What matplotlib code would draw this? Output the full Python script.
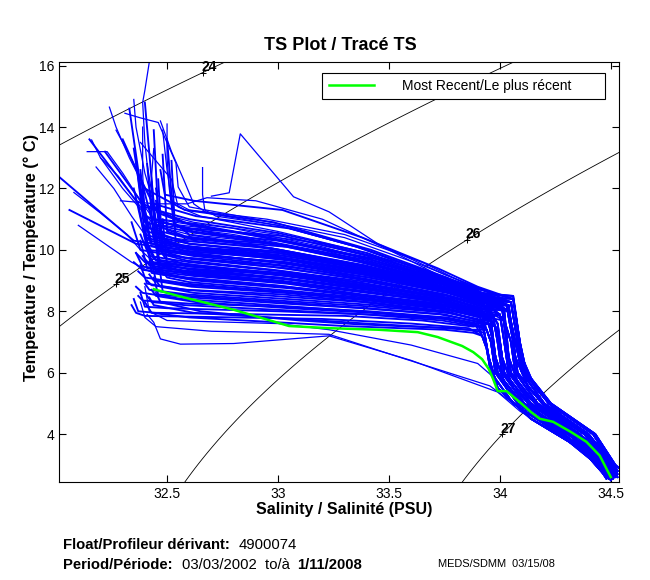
import matplotlib
matplotlib.use('Agg')
import matplotlib.pyplot as plt
import numpy as np

plt.rcParams['font.family'] = ['Liberation Sans', 'DejaVu Sans']

# density (sigma-t) levels drawn as background and where their labels sit
levels = [24, 25, 26, 27]
label_s = [32.66, 32.27, 33.85, 34.01]

# deep parts of the profiles (from the step near S=34 down to the bottom)
tails = [
    ([33.92, 33.94, 33.96, 34.06, 34.27, 34.44, 34.48], [7.2, 6.8, 6.0, 5.0, 4.0, 3.0, 2.55]),
    ([33.94, 33.96, 33.98, 34.08, 34.29, 34.45, 34.49], [7.4, 7.0, 6.0, 5.0, 4.0, 3.0, 2.6]),
    ([33.95, 33.97, 33.99, 34.10, 34.31, 34.46, 34.50], [7.6, 7.0, 6.0, 5.0, 4.0, 3.0, 2.5]),
    ([33.97, 33.99, 34.01, 34.11, 34.32, 34.47, 34.50], [7.8, 7.0, 6.0, 5.0, 4.0, 3.0, 2.65]),
    ([33.98, 34.00, 34.02, 34.13, 34.34, 34.47, 34.51], [7.5, 7.0, 6.0, 5.0, 4.0, 3.0, 2.55]),
    ([34.00, 34.02, 34.04, 34.14, 34.35, 34.48, 34.51], [7.9, 7.0, 6.0, 5.0, 4.0, 3.0, 2.7]),
    ([34.01, 34.03, 34.05, 34.16, 34.36, 34.49, 34.52], [8.1, 7.0, 6.0, 5.0, 4.0, 3.0, 2.6]),
    ([34.02, 34.05, 34.07, 34.17, 34.38, 34.49, 34.52], [7.7, 7.0, 6.0, 5.0, 4.0, 3.0, 2.75]),
    ([34.03, 34.06, 34.08, 34.19, 34.39, 34.50, 34.53], [8.2, 7.0, 6.0, 5.0, 4.0, 3.0, 2.6]),
    ([34.04, 34.07, 34.10, 34.20, 34.40, 34.51, 34.53], [8.0, 7.0, 6.0, 5.0, 4.0, 3.0, 2.7]),
    ([34.05, 34.08, 34.11, 34.22, 34.42, 34.51, 34.53], [8.3, 7.0, 6.0, 5.0, 4.0, 3.0, 2.8]),
    ([34.06, 34.09, 34.12, 34.23, 34.43, 34.52, 34.535], [8.4, 7.0, 6.0, 5.0, 4.0, 3.0, 2.9]),
    ([33.93, 33.95, 33.99, 34.14, 34.37, 34.48], [7.3, 6.5, 5.5, 4.5, 3.5, 2.6]),
    ([33.96, 33.98, 34.03, 34.17, 34.39, 34.49], [7.7, 6.5, 5.5, 4.5, 3.5, 2.55]),
    ([33.99, 34.01, 34.06, 34.20, 34.41, 34.50], [7.6, 6.5, 5.5, 4.5, 3.5, 2.65]),
    ([34.02, 34.04, 34.09, 34.23, 34.43, 34.51], [8.0, 6.5, 5.5, 4.5, 3.5, 2.6]),
    ([34.04, 34.07, 34.13, 34.26, 34.45, 34.52], [8.2, 6.5, 5.5, 4.5, 3.5, 2.7]),
    ([34.06, 34.10, 34.16, 34.29, 34.47, 34.53], [8.5, 6.5, 5.5, 4.5, 3.5, 2.8]),
]

# upper parts of the profiles in the main band: (salinity, temperature, index of deep part)
band_profiles = [
    ([32.47, 32.49, 32.62, 33.02, 33.38, 33.72, 33.90], [12.6, 11.8, 11.6, 11.3, 10.4, 9.4, 8.8], 11),
    ([32.30, 32.40, 32.58, 32.98, 33.42, 33.76, 33.92], [13.6, 12.0, 11.3, 10.9, 10.0, 9.1, 8.6], 10),
    ([32.40, 32.44, 32.63, 33.05, 33.36, 33.70, 33.91], [14.8, 11.5, 11.1, 10.7, 10.1, 9.2, 8.7], 11),
    ([32.22, 32.40, 32.60, 33.00, 33.40, 33.74, 33.93], [13.2, 11.4, 11.0, 10.55, 9.9, 9.05, 8.5], 9),
    ([32.44, 32.46, 32.57, 32.96, 33.44, 33.78, 33.92], [13.9, 11.2, 10.9, 10.4, 9.7, 8.95, 8.5], 11),
    ([32.15, 32.36, 32.61, 33.03, 33.39, 33.73, 33.91], [13.6, 11.6, 10.8, 10.3, 9.75, 9.0, 8.55], 7),
    ([32.38, 32.43, 32.59, 32.99, 33.41, 33.77, 33.92], [12.4, 11.0, 10.7, 10.2, 9.55, 8.9, 8.45], 10),
    ([32.33, 32.40, 32.62, 33.04, 33.37, 33.71, 33.93], [14.6, 11.1, 10.6, 10.1, 9.6, 8.95, 8.4], 8),
    ([32.50, 32.53, 32.60, 33.01, 33.43, 33.76, 33.92], [13.6, 10.9, 10.5, 10.0, 9.4, 8.85, 8.45], 11),
    ([32.42, 32.45, 32.58, 32.97, 33.38, 33.74, 33.93], [11.9, 10.8, 10.45, 10.05, 9.5, 8.8, 8.4], 6),
    ([32.06, 32.36, 32.61, 33.02, 33.40, 33.75, 33.92], [11.3, 10.2, 9.95, 9.7, 9.3, 8.75, 8.35], 9),
    ([32.42, 32.44, 32.60, 33.00, 33.42, 33.77, 33.93], [11.4, 10.6, 10.2, 9.9, 9.35, 8.7, 8.3], 5),
    ([32.36, 32.40, 32.57, 32.98, 33.37, 33.73, 33.91], [12.9, 10.5, 10.15, 9.8, 9.3, 8.75, 8.35], 10),
    ([32.01, 32.35, 32.63, 33.05, 33.44, 33.78, 33.93], [12.4, 10.3, 10.0, 9.65, 9.15, 8.6, 8.2], 3),
    ([32.45, 32.47, 32.59, 33.01, 33.39, 33.74, 33.92], [11.6, 10.4, 10.05, 9.75, 9.25, 8.7, 8.3], 8),
    ([32.40, 32.43, 32.62, 33.03, 33.41, 33.76, 33.92], [11.2, 10.2, 9.9, 9.55, 9.1, 8.6, 8.25], 4),
    ([32.52, 32.54, 32.60, 32.99, 33.38, 33.72, 33.91], [12.9, 10.1, 9.85, 9.6, 9.2, 8.7, 8.35], 10),
    ([32.34, 32.38, 32.58, 32.97, 33.43, 33.77, 33.92], [10.9, 10.0, 9.75, 9.45, 9.0, 8.5, 8.15], 6),
    ([32.44, 32.46, 32.61, 33.04, 33.40, 33.75, 33.93], [10.7, 9.9, 9.7, 9.4, 9.0, 8.55, 8.2], 2),
    ([32.38, 32.42, 32.60, 33.02, 33.36, 33.73, 33.92], [10.5, 9.8, 9.6, 9.3, 8.95, 8.5, 8.1], 7),
    ([32.47, 32.49, 32.57, 32.96, 33.42, 33.78, 33.93], [10.0, 9.75, 9.55, 9.25, 8.8, 8.4, 8.05], 5),
    ([32.41, 32.44, 32.63, 33.05, 33.39, 33.74, 33.92], [10.2, 9.7, 9.5, 9.2, 8.85, 8.45, 8.1], 9),
    ([32.36, 32.40, 32.59, 33.00, 33.41, 33.76, 33.91], [9.9, 9.6, 9.4, 9.1, 8.75, 8.35, 8.0], 3),
    ([32.44, 32.47, 32.61, 33.03, 33.37, 33.72, 33.90], [10.4, 9.55, 9.35, 9.05, 8.75, 8.4, 8.05], 8),
    ([32.39, 32.42, 32.58, 32.98, 33.44, 33.77, 33.92], [9.8, 9.5, 9.3, 9.0, 8.6, 8.25, 7.95], 1),
    ([32.48, 32.50, 32.60, 33.01, 33.40, 33.75, 33.91], [11.0, 9.45, 9.2, 8.95, 8.6, 8.3, 8.0], 4),
    ([32.35, 32.39, 32.62, 33.04, 33.38, 33.73, 33.90], [9.6, 9.35, 9.15, 8.9, 8.55, 8.25, 7.95], 6),
    ([32.43, 32.45, 32.57, 32.97, 33.42, 33.78, 33.92], [9.7, 9.3, 9.1, 8.85, 8.5, 8.2, 7.9], 2),
    ([32.40, 32.43, 32.60, 33.02, 33.39, 33.74, 33.91], [10.8, 9.25, 9.05, 8.8, 8.5, 8.2, 7.9], 5),
    ([32.46, 32.48, 32.63, 33.05, 33.43, 33.77, 33.92], [9.4, 9.2, 9.0, 8.75, 8.45, 8.15, 7.85], 3),
    ([32.37, 32.40, 32.59, 32.99, 33.36, 33.72, 33.90], [9.3, 9.1, 8.9, 8.65, 8.4, 8.1, 7.85], 7),
    ([32.42, 32.44, 32.61, 33.03, 33.41, 33.76, 33.91], [9.2, 9.0, 8.8, 8.6, 8.35, 8.05, 7.8], 1),
    ([32.38, 32.41, 32.58, 32.98, 33.38, 33.73, 33.90], [9.5, 8.9, 8.7, 8.5, 8.3, 8.0, 7.75], 4),
    ([32.45, 32.47, 32.62, 33.04, 33.44, 33.78, 33.91], [9.0, 8.8, 8.6, 8.4, 8.2, 7.95, 7.7], 2),
    ([32.40, 32.42, 32.60, 33.01, 33.40, 33.75, 33.90], [8.9, 8.7, 8.5, 8.3, 8.1, 7.9, 7.65], 0),
    ([32.36, 32.39, 32.57, 32.97, 33.37, 33.72, 33.89], [8.8, 8.6, 8.4, 8.2, 8.0, 7.8, 7.6], 3),
    ([32.43, 32.45, 32.63, 33.05, 33.42, 33.77, 33.90], [8.7, 8.5, 8.3, 8.1, 7.95, 7.75, 7.55], 1),
    ([32.34, 32.36, 32.40, 32.80, 33.20, 33.60, 33.86], [8.2, 7.95, 7.85, 7.8, 7.75, 7.6, 7.45], 0),
    ([32.35, 32.37, 32.45, 32.90, 33.30, 33.65, 33.88], [8.4, 8.0, 7.95, 7.9, 7.85, 7.7, 7.5], 2),
    ([32.38, 32.40, 32.50, 33.00, 33.40, 33.75, 33.89], [8.6, 8.15, 8.1, 8.0, 7.9, 7.75, 7.55], 0),
    ([32.41, 32.43, 32.58, 32.99, 33.39, 33.74, 33.90], [8.5, 8.3, 8.2, 8.05, 7.9, 7.7, 7.5], 1),
    ([32.37, 32.39, 32.60, 33.02, 33.41, 33.76, 33.90], [8.5, 8.35, 8.25, 8.15, 8.0, 7.8, 7.6], 2),
    ([32.44, 32.46, 32.61, 33.03, 33.38, 33.73, 33.91], [9.1, 8.55, 8.45, 8.25, 8.1, 7.9, 7.65], 4),
    ([32.46, 32.48, 32.59, 33.00, 33.43, 33.77, 33.91], [9.8, 8.65, 8.55, 8.35, 8.15, 7.95, 7.7], 5),
    ([32.43, 32.46, 32.62, 33.02, 33.40, 33.75, 33.92], [12.2, 10.0, 9.8, 9.5, 9.05, 8.55, 8.2], 6),
    ([32.39, 32.42, 32.58, 32.99, 33.37, 33.72, 33.91], [11.8, 10.3, 10.1, 9.85, 9.4, 8.85, 8.45], 9),
    ([32.48, 32.50, 32.61, 33.04, 33.42, 33.77, 33.93], [13.1, 10.6, 10.35, 10.1, 9.55, 8.9, 8.5], 10),
    ([32.35, 32.40, 32.60, 33.00, 33.39, 33.74, 33.92], [12.0, 10.4, 10.1, 9.9, 9.45, 8.8, 8.4], 7),
    ([32.45, 32.48, 32.59, 32.98, 33.41, 33.76, 33.92], [10.9, 9.85, 9.65, 9.35, 8.95, 8.5, 8.15], 8),
    ([32.42, 32.45, 32.62, 33.03, 33.38, 33.73, 33.91], [10.1, 9.65, 9.45, 9.15, 8.8, 8.4, 8.05], 4),
    ([32.41, 32.44, 32.60, 33.00, 33.40, 33.75, 33.92], [12.8, 10.45, 10.2, 9.95, 9.45, 8.85, 8.45], 16),
    ([32.37, 32.41, 32.62, 33.02, 33.38, 33.74, 33.93], [11.5, 10.0, 9.85, 9.6, 9.2, 8.7, 8.3], 15),
    ([32.46, 32.48, 32.58, 32.99, 33.41, 33.77, 33.92], [12.3, 9.95, 9.75, 9.5, 9.1, 8.6, 8.25], 14),
    ([32.40, 32.43, 32.61, 33.03, 33.39, 33.73, 33.91], [10.6, 9.6, 9.45, 9.25, 8.9, 8.45, 8.1], 13),
    ([32.44, 32.46, 32.59, 33.00, 33.42, 33.76, 33.92], [11.1, 9.5, 9.3, 9.1, 8.7, 8.3, 8.0], 12),
    ([32.38, 32.41, 32.60, 33.01, 33.40, 33.74, 33.91], [10.3, 9.4, 9.25, 9.0, 8.65, 8.3, 7.95], 13),
    ([32.43, 32.45, 32.62, 33.04, 33.43, 33.78, 33.92], [9.5, 9.35, 9.2, 8.95, 8.6, 8.25, 7.9], 12),
    ([32.47, 32.49, 32.57, 32.97, 33.37, 33.72, 33.90], [10.6, 10.3, 10.1, 9.8, 9.35, 8.8, 8.4], 16),
    ([32.35, 32.40, 32.59, 33.00, 33.41, 33.76, 33.92], [13.3, 10.9, 10.6, 10.3, 9.7, 9.0, 8.55], 17),
    ([32.45, 32.47, 32.61, 33.02, 33.39, 33.74, 33.92], [12.0, 10.9, 10.7, 10.45, 9.85, 9.1, 8.6], 17),
    ([32.39, 32.42, 32.58, 32.98, 33.38, 33.73, 33.91], [11.6, 10.7, 10.4, 10.2, 9.7, 9.0, 8.55], 15),
    ([32.42, 32.45, 32.60, 33.01, 33.42, 33.77, 33.93], [10.9, 10.15, 9.95, 9.75, 9.3, 8.7, 8.35], 14),
    ([32.36, 32.39, 32.62, 33.03, 33.40, 33.75, 33.92], [9.9, 9.45, 9.3, 9.05, 8.7, 8.35, 8.0], 12),
    ([32.48, 32.50, 32.60, 33.00, 33.38, 33.73, 33.91], [9.3, 9.1, 8.95, 8.7, 8.45, 8.15, 7.85], 13),
    ([32.41, 32.43, 32.59, 33.02, 33.41, 33.76, 33.91], [9.0, 8.85, 8.7, 8.55, 8.3, 8.0, 7.7], 12),
    ([32.44, 32.46, 32.61, 33.04, 33.44, 33.78, 33.92], [10.5, 10.05, 9.85, 9.6, 9.15, 8.65, 8.3], 15),
    ([32.38, 32.41, 32.57, 32.97, 33.39, 33.74, 33.92], [12.6, 10.6, 10.3, 10.05, 9.5, 8.9, 8.5], 16),
    ([32.46, 32.48, 32.62, 33.03, 33.37, 33.72, 33.91], [11.3, 10.25, 10.05, 9.8, 9.4, 8.8, 8.4], 14),
    ([32.40, 32.42, 32.58, 32.99, 33.43, 33.77, 33.92], [9.7, 9.55, 9.4, 9.2, 8.8, 8.4, 8.05], 13),
    ([32.43, 32.45, 32.60, 33.01, 33.40, 33.75, 33.91], [9.6, 9.0, 8.85, 8.65, 8.4, 8.1, 7.8], 12),
    ([32.40, 32.43, 32.60, 33.05, 33.30, 33.55, 33.75, 33.88], [8.3, 7.95, 7.8, 7.62, 7.52, 7.45, 7.4, 7.3], 0),
    ([32.45, 32.47, 32.65, 33.10, 33.35, 33.60, 33.80, 33.90], [8.6, 8.3, 8.0, 7.7, 7.58, 7.5, 7.45, 7.35], 12),
    ([32.42, 32.44, 32.62, 33.08, 33.40, 33.65, 33.85], [8.45, 8.2, 7.95, 7.75, 7.6, 7.5, 7.4], 1),
]

# warm surface spikes and odd shapes in the upper left
odd_profiles = [
    ([32.42, 32.40, 32.39, 32.40, 32.41, 32.45, 32.80, 33.20, 33.60, 33.88],
     [16.12, 15.2, 14.8, 13.5, 12.8, 11.0, 10.6, 10.2, 9.5, 8.8], 11),
    ([32.24, 32.27, 32.33, 32.40, 32.47, 32.80, 33.20, 33.60, 33.90],
     [14.65, 14.0, 13.0, 12.0, 11.0, 10.7, 10.1, 9.3, 8.6], 10),
    ([32.35, 32.36, 32.40, 32.44, 32.48, 32.80, 33.20, 33.60, 33.90],
     [14.9, 14.0, 12.5, 11.5, 10.8, 10.5, 9.95, 9.3, 8.65], 9),
    ([32.31, 32.38, 32.46, 32.54, 32.55, 32.60, 32.90, 33.30, 33.65, 33.92],
     [14.45, 14.3, 14.15, 12.83, 12.05, 11.4, 11.0, 10.4, 9.5, 8.7], 11),
    ([32.66, 32.66, 32.67, 32.72, 33.00, 33.35, 33.70, 33.92],
     [12.68, 11.8, 11.3, 11.1, 10.8, 10.1, 9.2, 8.7], 10),
    ([32.14, 32.23, 32.30, 32.38, 32.45, 32.80, 33.20, 33.60, 33.90],
     [13.2, 13.2, 12.5, 11.6, 10.9, 10.6, 10.0, 9.2, 8.6], 8),
    ([32.16, 32.20, 32.30, 32.42, 32.50, 32.90, 33.30, 33.70, 33.93],
     [13.58, 13.0, 12.0, 11.0, 10.4, 10.1, 9.6, 8.9, 8.45], 7),
    ([32.08, 32.20, 32.32, 32.38, 32.44, 32.85, 33.30, 33.70, 33.93],
     [11.87, 11.2, 10.5, 10.0, 9.6, 9.3, 8.95, 8.55, 8.2], 5),
    ([32.29, 32.45, 32.59, 32.68, 32.90, 33.20, 33.50, 33.80, 33.95],
     [11.6, 11.5, 11.5, 11.7, 11.6, 11.0, 10.0, 8.9, 8.5], 9),
    ([32.48, 32.50, 32.52, 32.60, 32.95, 33.30, 33.65, 33.90],
     [13.9, 12.6, 11.6, 11.3, 11.0, 10.5, 9.6, 8.7], 6),
    ([32.70, 32.78, 32.83, 33.07, 33.23, 33.45, 33.75, 33.93],
     [11.75, 11.86, 13.78, 11.73, 11.24, 10.2, 9.2, 8.7], 10),
    ([32.20, 32.28, 32.36, 32.44, 32.60, 33.00, 33.40, 33.75, 33.92],
     [13.0, 12.4, 11.6, 10.8, 10.5, 10.2, 9.6, 8.9, 8.5], 16),
    ([32.27, 32.33, 32.39, 32.46, 32.62, 33.00, 33.40, 33.75, 33.92],
     [13.9, 13.1, 12.2, 11.2, 10.9, 10.5, 9.8, 9.0, 8.55], 17),
    ([32.18, 32.26, 32.34, 32.42, 32.60, 33.00, 33.40, 33.75, 33.92],
     [12.7, 12.0, 11.1, 10.3, 10.0, 9.75, 9.3, 8.7, 8.3], 14),
    ([32.39, 32.39, 32.40, 32.43, 32.60, 33.00, 33.40, 33.75, 33.92],
     [14.0, 12.5, 11.0, 10.1, 9.9, 9.6, 9.2, 8.65, 8.3], 15),
    ([32.50, 32.50, 32.51, 32.53, 32.62, 33.00, 33.40, 33.75, 33.92],
     [14.1, 13.0, 12.0, 10.8, 10.55, 10.2, 9.6, 8.95, 8.5], 16),
    ([32.44, 32.43, 32.44, 32.46, 32.60, 33.00, 33.40, 33.75, 33.92],
     [13.3, 12.4, 11.3, 10.4, 10.2, 9.9, 9.4, 8.8, 8.4], 13),
    ([32.10, 32.22, 32.34, 32.42, 32.60, 33.00, 33.40, 33.75, 33.91],
     [10.8, 10.2, 9.6, 9.3, 9.1, 8.85, 8.5, 8.15, 7.9], 12),
    ([32.47, 32.52, 32.58, 32.62, 32.68, 33.00, 33.40, 33.75, 33.92],
     [14.2, 13.2, 12.2, 11.5, 11.2, 10.8, 10.0, 9.1, 8.6], 17),
    ([32.38, 32.45, 32.52, 32.55, 32.65, 33.00, 33.40, 33.75, 33.92],
     [13.5, 12.9, 12.3, 11.4, 11.1, 10.6, 9.9, 9.05, 8.55], 16),
]

# complete profiles that leave the band below the most recent one
low_profiles = [
    ([32.41, 32.44, 32.47, 32.56, 32.80, 33.23, 33.60, 33.99, 34.09, 34.19, 34.30, 34.40, 34.47],
     [7.9, 7.64, 7.1, 6.93, 6.95, 7.2, 6.4, 5.37, 4.75, 4.3, 3.9, 3.3, 2.7]),
    ([32.38, 32.40, 32.45, 32.70, 33.00, 33.23, 33.55, 33.955, 34.06, 34.16, 34.27, 34.38, 34.46],
     [8.3, 7.8, 7.5, 7.35, 7.3, 7.25, 6.5, 5.57, 5.0, 4.5, 4.1, 3.5, 2.8]),
    ([32.40, 32.42, 32.50, 33.00, 33.23, 33.60, 33.90, 33.98, 34.05, 34.14, 34.24, 34.34, 34.43, 34.49],
     [8.8, 8.0, 7.7, 7.6, 7.4, 6.9, 6.3, 5.8, 5.1, 4.6, 4.25, 3.9, 3.3, 2.7]),
]

# most recent profile
recent_s = [32.44, 32.55, 32.80, 33.05, 33.23, 33.45, 33.63, 33.72, 33.83, 33.88, 33.92,
            33.95, 33.97, 33.99, 34.03, 34.09, 34.14, 34.18, 34.24, 34.32, 34.39, 34.45, 34.50]
recent_t = [8.72, 8.5, 8.05, 7.52, 7.45, 7.40, 7.32, 7.16, 6.87, 6.67, 6.44,
            6.12, 5.79, 5.40, 5.40, 5.04, 4.72, 4.50, 4.40, 4.07, 3.75, 3.30, 2.6]


def sigma_t(s, t):
    # UNESCO 1983 equation of state at the surface
    rho_w = (999.842594 + 6.793952e-2 * t - 9.095290e-3 * t**2 + 1.001685e-4 * t**3
             - 1.120083e-6 * t**4 + 6.536332e-9 * t**5)
    a = 8.24493e-1 - 4.0899e-3 * t + 7.6438e-5 * t**2 - 8.2467e-7 * t**3 + 5.3875e-9 * t**4
    b = -5.72466e-3 + 1.0227e-4 * t - 1.6546e-6 * t**2
    c = 4.8314e-4
    return rho_w + a * s + b * s**1.5 + c * s**2 - 1000.0


def t_on_level(s, level):
    lo, hi = -1.0, 30.0
    for _ in range(60):
        mid = 0.5 * (lo + hi)
        if sigma_t(s, mid) > level:
            lo = mid
        else:
            hi = mid
    return 0.5 * (lo + hi)


fig = plt.figure(figsize=(6.5, 5.8), dpi=100)
ax = fig.add_axes([0.0908, 0.169, 0.8615, 0.7241])

sg, tg = np.meshgrid(np.linspace(31.9, 34.7, 300), np.linspace(2.0, 17.0, 300))
ax.contour(sg, tg, sigma_t(sg, tg), levels=levels, colors='k', linewidths=0.6, zorder=1)
for lev, s in zip(levels, label_s):
    t = t_on_level(s, lev)
    ax.plot(s, t, '+', color='k', ms=5, mew=0.7, zorder=1)
    ax.annotate(str(lev), (s, t), xytext=(-1, -1), textcoords='offset points',
                fontsize=10, fontweight='bold', ha='left', va='bottom', zorder=1)

blue = '#0000ff'
for s_up, t_up, k in band_profiles:
    s_dn, t_dn = tails[k]
    ax.plot(s_up + s_dn, t_up + t_dn, color=blue, lw=1.35, zorder=2)
for s_up, t_up, k in odd_profiles:
    s_dn, t_dn = tails[k]
    ax.plot(s_up + s_dn, t_up + t_dn, color=blue, lw=0.9, zorder=2)
for s_all, t_all in low_profiles:
    ax.plot(s_all, t_all, color=blue, lw=0.9, zorder=2)

ax.plot(recent_s, recent_t, color='#00ff00', lw=1.8, zorder=3,
        label='Most Recent/Le plus récent       ')

ax.set_xlim(32.013, 34.537)
ax.set_ylim(2.44, 16.12)
ax.set_xticks([32.5, 33, 33.5, 34, 34.5])
ax.set_xticklabels(['32.5', '33', '33.5', '34', '34.5'])
ax.set_yticks([4, 6, 8, 10, 12, 14, 16])
ax.tick_params(direction='in', top=True, right=True, length=5, labelsize=10, width=0.8)
for sp in ax.spines.values():
    sp.set_linewidth(0.8)

leg = ax.legend(loc='upper right', bbox_to_anchor=(0.975, 0.974), fontsize=10,
                handlelength=3.3, handletextpad=2.0, borderpad=0.45, borderaxespad=0,
                fancybox=False, framealpha=1, edgecolor='k')
leg.get_frame().set_linewidth(0.8)

fig.text(0.523, 0.922, 'TS Plot / Tracé TS', ha='center', va='center',
         fontsize=13, fontweight='bold')
fig.text(0.529, 0.122, 'Salinity / Salinité (PSU)', ha='center', va='center',
         fontsize=11.5, fontweight='bold')
fig.text(0.048, 0.557, 'Temperature / Température (° C)', ha='center', va='center',
         rotation=90, fontsize=11.8, fontweight='bold')

fig.text(0.097, 0.060, 'Float/Profileur dérivant:', ha='left', va='center',
         fontsize=10.7, fontweight='bold')
fig.text(0.367, 0.060, '4900074', ha='left', va='center', fontsize=10.7)
fig.text(0.097, 0.026, 'Period/Période:', ha='left', va='center',
         fontsize=10.7, fontweight='bold')
fig.text(0.280, 0.026, '03/03/2002  to/à', ha='left', va='center', fontsize=10.7)
fig.text(0.457, 0.026, '1/11/2008', ha='left', va='center', fontsize=10.7, fontweight='bold')
fig.text(0.674, 0.028, 'MEDS/SDMM  03/15/08', ha='left', va='center', fontsize=7.9)

fig.savefig('out.png', dpi=100)
